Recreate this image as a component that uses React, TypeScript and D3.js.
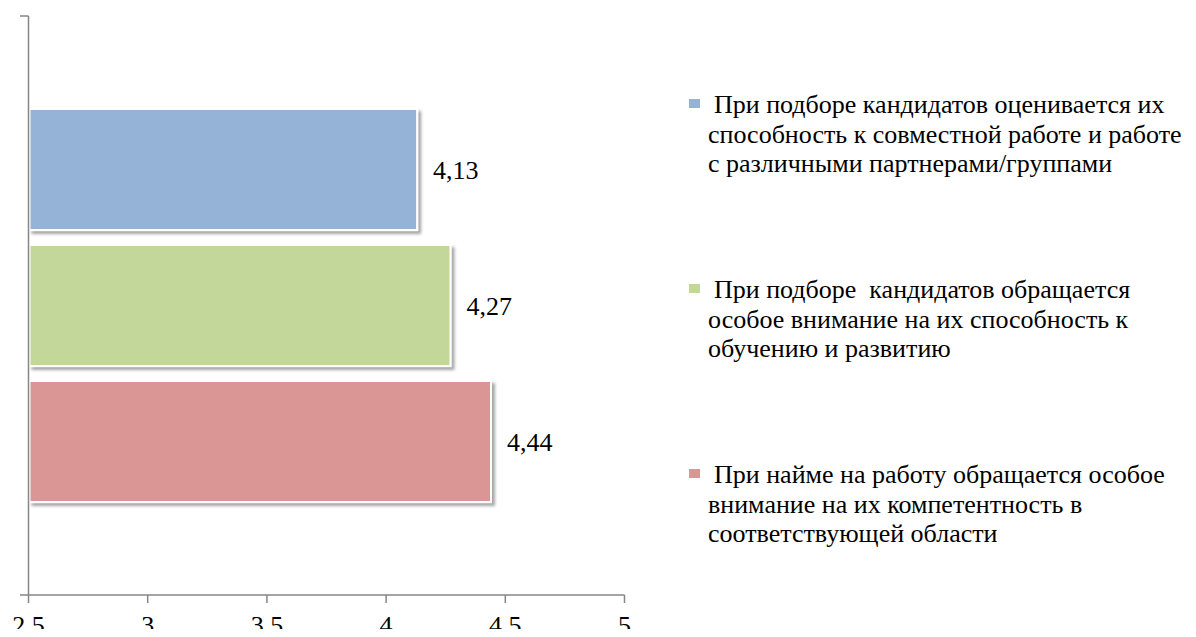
import React from "react";
import * as d3 from "d3";

// Survey statements (top to bottom) and their mean scores
const categories = [
  "При подборе кандидатов оценивается их способность к совместной работе и работе с различными партнерами/группами",
  "При подборе  кандидатов обращается особое внимание на их способность к обучению и развитию",
  "При найме на работу обращается особое внимание на их компетентность в соответствующей области",
];
const values = [4.13, 4.27, 4.44];
const colors = ["#95B3D7", "#C4D79B", "#D99694"];

// Wrapped legend lines for each statement
const legendLines = [
  ["При подборе кандидатов оценивается их", "способность к совместной работе и работе", "с различными партнерами/группами"],
  ["При подборе\u00a0 кандидатов обращается", "особое внимание на их способность к", "обучению и развитию"],
  ["При найме на работу обращается особое", "внимание на их компетентность в", "соответствующей области"],
];

const xTicks = [2.5, 3, 3.5, 4, 4.5, 5];

const W = 1196;
const H = 637;
const FS = 26;

const fmt = (v: number) => String(v).replace(".", ",");

export default function App() {
  const x = d3.scaleLinear().domain([2.5, 5]).range([28.5, 624.5]);
  const y = d3
    .scaleBand<number>()
    .domain(d3.range(categories.length))
    .range([101.5, 509.5])
    .paddingInner(0.11)
    .paddingOuter(0.055);

  const axisY = 595;
  const axisTop = 16;
  const legendTops = [113, 298, 483];

  return (
    <svg width={W} height={H} style={{ display: "block", margin: "-8px", background: "#fff" }}>
      <style>{`.lbl { font-family: "Times New Roman", "Liberation Serif", Tinos; font-size: ${FS}px; fill: #000; }`}</style>
      <defs>
        <filter id="barShadow" x="-10%" y="-10%" width="130%" height="130%">
          <feGaussianBlur in="SourceAlpha" stdDeviation="1.6" />
          <feOffset dx="2.5" dy="2.5" result="off" />
          <feComponentTransfer>
            <feFuncA type="linear" slope="0.35" />
          </feComponentTransfer>
          <feMerge>
            <feMergeNode />
            <feMergeNode in="SourceGraphic" />
          </feMerge>
        </filter>
      </defs>

      {/* bars */}
      {values.map((v, i) => (
        <rect
          key={i}
          x={x(2.5) + 1}
          y={y(i)!}
          width={x(v) - x(2.5) - 1}
          height={y.bandwidth()}
          fill={colors[i]}
          stroke="#fff"
          strokeWidth={2}
          filter="url(#barShadow)"
        />
      ))}

      {/* value labels */}
      {values.map((v, i) => (
        <text key={i} className="lbl" x={x(v) + 16} y={y(i)! + y.bandwidth() / 2 + 9}>
          {fmt(v)}
        </text>
      ))}

      {/* vertical category axis */}
      <line x1={x(2.5)} x2={x(2.5)} y1={axisTop} y2={axisY} stroke="#868686" strokeWidth={1.5} />
      <line x1={20} x2={x(2.5)} y1={axisTop} y2={axisTop} stroke="#868686" strokeWidth={1.5} />

      {/* horizontal value axis */}
      <line x1={20} x2={x(5)} y1={axisY} y2={axisY} stroke="#868686" strokeWidth={1.5} />
      {xTicks.map((t) => (
        <g key={t}>
          <line x1={x(t)} x2={x(t)} y1={axisY} y2={axisY + 8} stroke="#868686" strokeWidth={1.5} />
          <text className="lbl" x={x(t)} y={634} textAnchor="middle">
            {fmt(t)}
          </text>
        </g>
      ))}

      {/* legend */}
      {legendLines.map((lines, i) => (
        <g key={i}>
          <rect x={689} y={legendTops[i] - 14} width={11} height={9} fill={colors[i]} />
          {lines.map((ln, j) => (
            <text key={j} className="lbl" x={j === 0 ? 714 : 708} y={legendTops[i] + j * 29.5}>
              {ln}
            </text>
          ))}
        </g>
      ))}
    </svg>
  );
}
